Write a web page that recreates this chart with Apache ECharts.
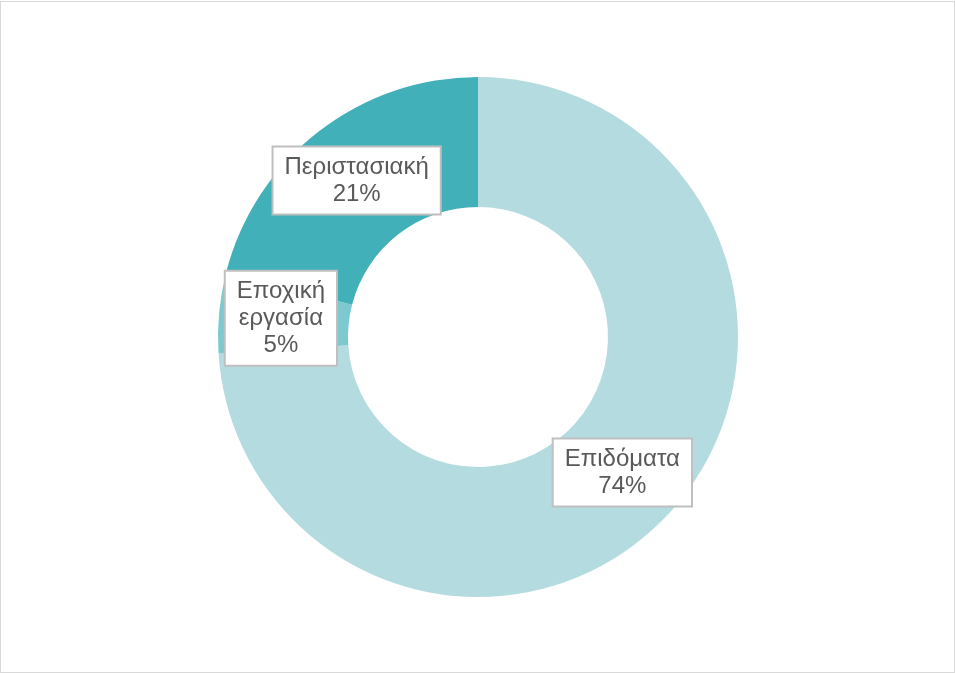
<!DOCTYPE html>
<html>
<head>
<meta charset="utf-8">
<script src="https://cdn.jsdelivr.net/npm/echarts@6/dist/echarts.min.js"></script>
<style>
  html, body { margin: 0; padding: 0; background: #ffffff; }
  #frame { position: absolute; left: 0; top: 1px; width: 953px; height: 670px; border: 1px solid #d9d9d9; }
  #chart { position: absolute; left: 0; top: 0; width: 955px; height: 675px; }
</style>
</head>
<body>
<div id="frame"></div>
<div id="chart"></div>
<script>
// Income sources, clockwise from 12 o'clock
const categories = ['Επιδόματα', 'Εποχική εργασία', 'Περιστασιακή'];
const shares = [74, 5, 21];
const sliceColors = ['#b4dce0', '#7ec9cf', '#41b0b8'];

const chart = echarts.init(document.getElementById('chart'), null, { renderer: 'canvas' });

chart.setOption({
  backgroundColor: 'transparent',
  animation: false,
  series: [{
    type: 'pie',
    center: [478, 337],
    radius: [130, 260],
    startAngle: 90,
    clockwise: true,
    silent: true,
    avoidLabelOverlap: false,
    itemStyle: { borderWidth: 0 },
    label: {
      show: true,
      position: 'inside',
      formatter: p => p.name.replace(' ', '\n') + '\n' + p.value + '%',
      fontFamily: 'Liberation Sans, Arial, sans-serif',
      fontSize: 24,
      lineHeight: 27,
      color: '#595959',
      align: 'center',
      backgroundColor: '#ffffff',
      borderColor: '#bfbfbf',
      borderWidth: 2,
      padding: [6, 11]
    },
    labelLine: { show: false },
    data: categories.map((name, i) => ({
      name: name,
      value: shares[i],
      itemStyle: { color: sliceColors[i] }
    }))
  }]
});
</script>
</body>
</html>
